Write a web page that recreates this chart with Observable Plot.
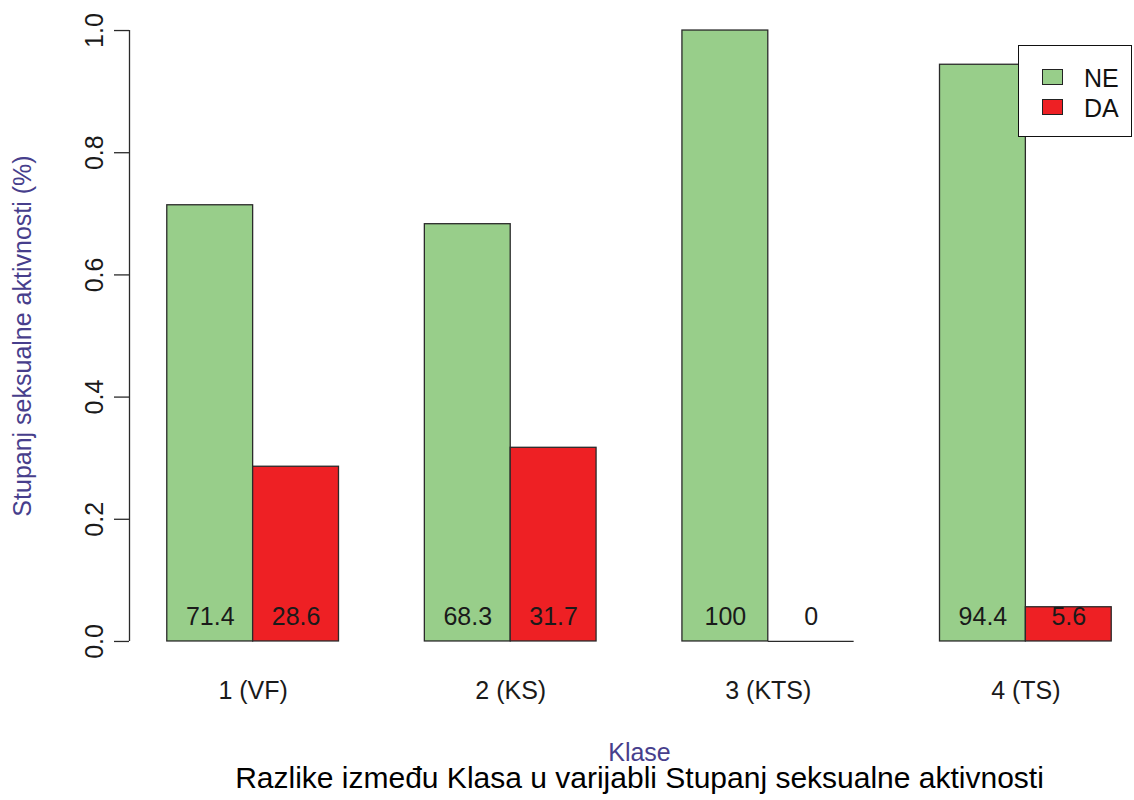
<!DOCTYPE html>
<html><head><meta charset="utf-8">
<script src="https://cdn.jsdelivr.net/npm/d3@7"></script>
<script src="https://cdn.jsdelivr.net/npm/@observablehq/plot@0.6"></script>
<style>
body{margin:0;background:#fff;font-family:"Liberation Sans",Arial,sans-serif;}
#wrap{position:relative;width:1134px;height:800px;overflow:hidden;}
#wrap svg{position:absolute;left:0;top:0;}
.legend{position:absolute;left:1018px;top:45px;width:112px;height:90px;border:1.5px solid #111;background:#fff;}
.legend .sw{position:absolute;left:23px;width:19px;height:14px;border:1.3px solid #222;}
.legend .lb{position:absolute;left:65px;font-size:25px;line-height:30px;color:#111;}
</style></head><body><div id="wrap"></div>
<script>
const classes = ["1 (VF)", "2 (KS)", "3 (KTS)", "4 (TS)"];
const series = ["NE", "DA"];
const neValues = [0.714, 0.683, 1.0, 0.944];
const daValues = [0.286, 0.317, 0.0, 0.056];
const seriesColors = ["#98CE8A", "#EE2024"];
const yTicks = [0, 0.2, 0.4, 0.6, 0.8, 1.0];
const mainTitle = "Razlike između Klasa u varijabli Stupanj seksualne aktivnosti";
const xTitle = "Klase";
const yTitle = "Stupanj seksualne aktivnosti (%)";

const valuesBySeries = {NE: neValues, DA: daValues};
const rows = classes.flatMap((c, gi) => series.map((s, si) => ({klasa: c, serija: s, value: valuesBySeries[s][gi], gi, si})));

// R barplot(beside=TRUE): each group = 1 unit gap + one unit per bar
const groupSpan = series.length + 1;
const nUnits = classes.length * groupSpan;
const pos = d => d.gi * groupSpan + d.si + 1;
const xDom = [1 - 0.04 * (nUnits - 1), nUnits + 0.04 * (nUnits - 1)];
const groupCenters = classes.map((c, i) => i * groupSpan + 1 + series.length / 2);
const fmt = v => String(Math.round(v * 1000) / 10);
const font = '"Liberation Sans", Arial, sans-serif';

const chart = Plot.plot({
  width: 1134, height: 800,
  marginLeft: 129, marginRight: -15, marginTop: 5.6, marginBottom: 134.6,
  style: {fontFamily: font, fontSize: "25px", background: "transparent", color: "#1a1a1a"},
  x: {domain: xDom, axis: null},
  y: {domain: [-0.04, 1.04], axis: null},
  color: {domain: series, range: seriesColors},
  marks: [
    Plot.rectY(rows, {x1: pos, x2: d => pos(d) + 1, y1: 0, y2: "value", fill: "serija", stroke: "#2a2a2a", strokeWidth: 1.3}),
    Plot.ruleY(rows.filter(d => d.value === 0), {x1: pos, x2: d => pos(d) + 1, y: "value", stroke: "#2a2a2a", strokeWidth: 1.3}),
    Plot.text(rows, {x: d => pos(d) + 0.5, y: 0.04, text: d => fmt(d.value), fontSize: 25, fill: "#1a1a1a"}),
    Plot.ruleX([xDom[0]], {y1: yTicks[0], y2: yTicks[yTicks.length - 1], stroke: "#2a2a2a", strokeWidth: 1.3}),
    Plot.axisY({ticks: yTicks, tickSize: 15, tickRotate: -90, tickPadding: 12, tickFormat: d3.format(".1f"), label: null, fontSize: 25, stroke: "#2a2a2a", strokeWidth: 1.3}),
    Plot.axisX({ticks: groupCenters, tickFormat: d => classes[groupCenters.indexOf(d)], tickSize: 0, tickPadding: 15, label: null, fontSize: 25}),
    Plot.text([yTitle], {text: d => d, frameAnchor: "left", textAnchor: "middle", dx: -107, rotate: -90, fill: "#473E8C", fontSize: 25}),
    Plot.text([xTitle], {text: d => d, frameAnchor: "bottom", dy: 95, fill: "#473E8C", fontSize: 25}),
    Plot.text([mainTitle], {text: d => d, frameAnchor: "bottom", dy: 122, fill: "#000", fontSize: 30})
  ]
});
const wrap = document.getElementById("wrap");
wrap.appendChild(chart);

const legend = document.createElement("div");
legend.className = "legend";
series.forEach((s, i) => {
  const sw = document.createElement("div");
  sw.className = "sw";
  sw.style.top = (23 + i * 30) + "px";
  sw.style.background = seriesColors[i];
  legend.appendChild(sw);
  const lb = document.createElement("div");
  lb.className = "lb";
  lb.style.top = (17 + i * 30) + "px";
  lb.textContent = s;
  legend.appendChild(lb);
});
wrap.appendChild(legend);
</script></body></html>
